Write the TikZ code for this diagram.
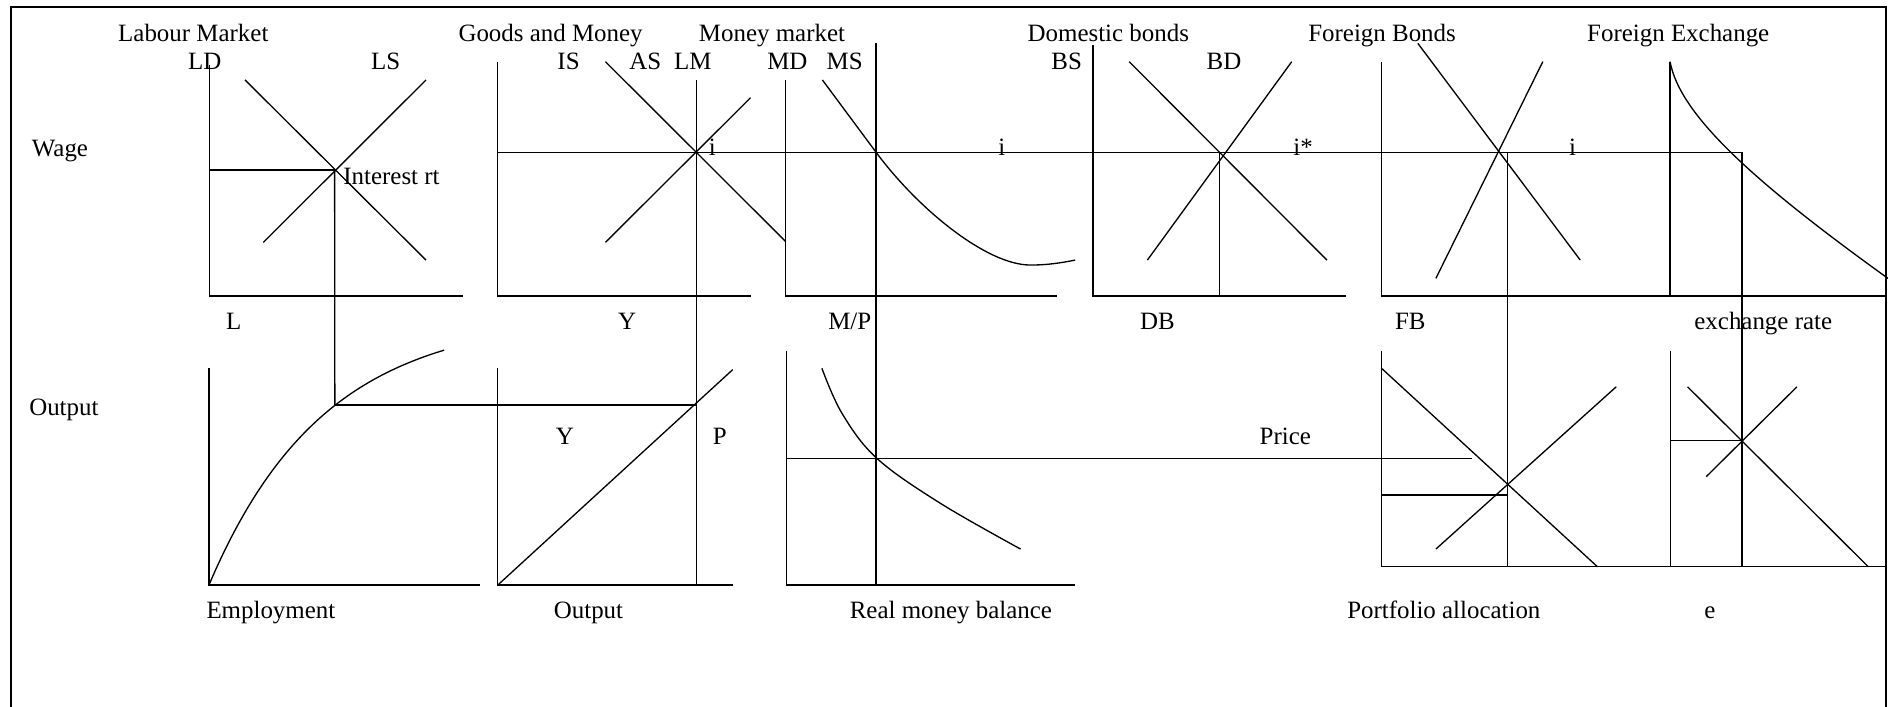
\documentclass[tikz,border=0pt]{standalone}
\usepackage{fontspec}
\setmainfont{Liberation Serif}
\begin{document}
\begin{tikzpicture}[x=1pt,y=-1pt,
  ln/.style={line width=1.1pt},
  frm/.style={line width=1.6pt},
  lbl/.style={inner sep=0pt, anchor=base west, font=\fontsize{20.7}{24}\selectfont}]
\useasboundingbox (0,0) rectangle (1568,587);
% frame
\draw[frm] (9.1,587) -- (9.1,6.1) -- (1566.3,6.1) -- (1566.3,587);

% key points
\coordinate (E1) at (277.9,141.2);
\coordinate (P1) at (278.1,336.4);
\coordinate (E2) at (578.6,126.5);
\coordinate (E3) at (727.6,126.5);
\coordinate (E4) at (1013,126.5);
\coordinate (E5) at (1252.1,126.5);
\coordinate (E6) at (1446.8,126.5);

% ---------- Labour market
\draw[ln] (173.9,54) -- (173.9,245.9) -- (384.3,245.9);
\draw[ln] (203.5,66.4) -- (353.8,216);
\draw[ln] (218.7,201.3) -- (353.8,66.4);
\draw[ln] (173.9,141.2) -- (E1);
\draw[ln] (E1) -- (P1);

% ---------- Goods and money
\draw[ln] (413.4,51.2) -- (413.4,245.9) -- (623.4,245.9);
\draw[ln] (502.8,51.2) -- (652.6,200.7);
\draw[ln] (502.8,201.3) -- (623.4,81.1);
\draw[ln] (578.6,66.4) -- (578.6,485.9);
\draw[ln] (413.4,126.5) -- (E6) -- (1446.8,470.7);

% ---------- Money market
\draw[ln] (652.6,66.4) -- (652.6,245.9) -- (878,245.9);
\draw[ln] (727.6,36) -- (727.6,485.9);
\draw[ln] (683,66.4) -- (E3) .. controls (763.4,174.7) and (820,220.1) .. (855.7,220.1)
  .. controls (870,220.1) and (880,218.5) .. (892.9,216);

% ---------- Domestic bonds
\draw[ln] (907.6,37.4) -- (907.6,245.9) -- (1117.5,245.9);
\draw[ln] (937.8,51.2) -- (1102,216);
\draw[ln] (952.9,216) -- (1072.8,51.2);
\draw[ln] (E4) -- (1013,245.9);

% ---------- Foreign bonds
\draw[ln] (1147.3,51.2) -- (1147.3,245.9) -- (1566.3,245.9);
\draw[ln] (1177.5,36) -- (1312.4,216);
\draw[ln] (1192.5,231.2) -- (1281.3,51.2);
\draw[ln] (E5) -- (1252.1,470.7);

% ---------- Foreign exchange
\draw[ln] (1387,51.2) -- (1387,245.9);
\draw[ln] (1387,51.2) .. controls (1395,95) and (1455,150) .. (1568,231.2);

% ---------- Employment / production
\draw[ln] (173.5,305.9) -- (173.5,485.9) -- (398.6,485.9);
\draw[ln] plot[domain=0:195.4, samples=60] ({173.5+\x},{485.9-223.9*(1-exp(-0.0105*\x))});
\draw[ln] (P1) -- (578.6,336.4);

% ---------- Output 45 degree
\draw[ln] (413.4,305.9) -- (413.4,485.9) -- (608.5,485.9);
\draw[ln] (413.4,485.9) -- (608.5,307);

% ---------- Real money balance
\draw[ln] (653,291.3) -- (653,485.9) -- (892.9,485.9);
\draw[ln] plot[smooth, tension=0.6] coordinates {(682.6,305.9) (699.3,343.3) (728.3,380.7) (781,418) (847.6,456)};
\draw[ln] (653,380.7) -- (1222.4,380.7);

% ---------- Portfolio allocation
\draw[ln] (1147.4,291.3) -- (1147.4,470.7) -- (1566.3,470.7);
\draw[ln] (1147.4,305.9) -- (1326.7,470.7);
\draw[ln] (1192.5,456) -- (1342.3,321.2);
\draw[ln] (1147.4,411.1) -- (1252.1,411.1);

% ---------- e panel
\draw[ln] (1387.1,291.3) -- (1387.1,470.7);
\draw[ln] (1401.5,321.2) -- (1551.6,470.7);
\draw[ln] (1417,395.9) -- (1492.4,321.2);
\draw[ln] (1387.1,366) -- (1446.8,366);

% ---------- labels
\node[lbl] (tLab) at (98,34.6) {Labour Market};
\node[lbl] (tGM) at (380.6,34.6) {Goods and Money};
\node[lbl] (tMM) at (580.3,34.6) {Money market};
\node[lbl] (tDB) at (853.3,34.6) {Domestic bonds};
\node[lbl] (tFB) at (1086.4,34.6) {Foreign Bonds};
\node[lbl] (tFX) at (1318,34.6) {Foreign Exchange};

\node[lbl] (lLD) at (156,58) {LD};
\node[lbl] (lLS) at (308,58) {LS};
\node[lbl] (lIS) at (462.8,58) {IS};
\node[lbl] (lAS) at (522.4,58) {AS};
\node[lbl] (lLM) at (559.6,58) {LM};
\node[lbl] (lMD) at (637,58) {MD};
\node[lbl] (lMS) at (686.4,58) {MS};
\node[lbl] (lBS) at (873,58) {BS};
\node[lbl] (lBD) at (1002,58) {BD};

\node[lbl] (lWage) at (26.3,130) {Wage};
\node[lbl] (li1) at (588.5,129.5) {i};
\node[lbl] (li2) at (829,129.5) {i};
\node[lbl] (li3) at (1074,129.5) {i*};
\node[lbl] (li4) at (1303,129.5) {i};
\node[lbl] (lInt) at (285,153.5) {Interest rt};

\node[lbl] (lL) at (187.5,274) {L};
\node[lbl] (lY1) at (513.2,274) {Y};
\node[lbl] (lMP) at (687.7,274) {M/P};
\node[lbl] (lDB) at (946.7,274) {DB};
\node[lbl] (lFB) at (1158.4,274) {FB};
\node[lbl] (lER) at (1407,274) {exchange rate};

\node[lbl] (lOut) at (24.1,345) {Output};
\node[lbl] (lY2) at (461.5,369.5) {Y};
\node[lbl] (lP) at (591.8,369.5) {P};
\node[lbl] (lPrice) at (1046,369.5) {Price};

\node[lbl] (bEmp) at (171.3,513.5) {Employment};
\node[lbl] (bOut) at (459.8,513.5) {Output};
\node[lbl] (bRMB) at (705.6,513.5) {Real money balance};
\node[lbl] (bPA) at (1118.7,513.5) {Portfolio allocation};
\node[lbl] (be) at (1415.3,513.5) {e};
\end{tikzpicture}
\end{document}
